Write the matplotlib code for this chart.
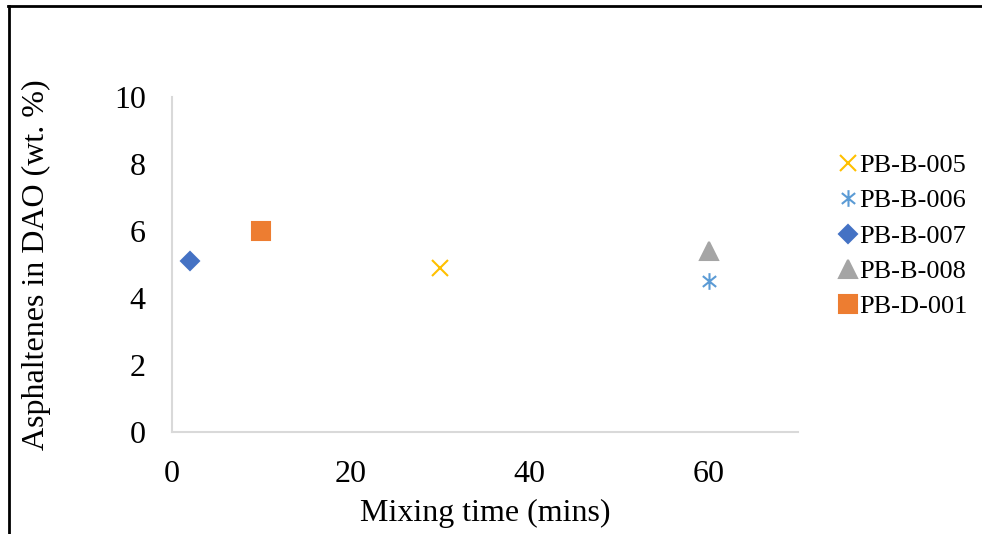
import matplotlib
matplotlib.use("Agg")
import matplotlib.pyplot as plt
from matplotlib.lines import Line2D
from matplotlib.path import Path

plt.rcParams['font.family'] = ['Liberation Serif', 'DejaVu Serif']

# data
series = ['PB-B-005', 'PB-B-006', 'PB-B-007', 'PB-B-008', 'PB-D-001']
mix_time = [30, 60, 2, 60, 10]
asphaltenes = [4.9, 4.5, 5.1, 5.4, 6.0]

# Excel-like star marker: vertical bar plus an X
star = Path([(0, -1), (0, 1), (-0.8, -0.65), (0.8, 0.65), (-0.8, 0.65), (0.8, -0.65)],
            [Path.MOVETO, Path.LINETO, Path.MOVETO, Path.LINETO, Path.MOVETO, Path.LINETO])

colors = ['#FFC000', '#5B9BD5', '#4472C4', '#A5A5A5', '#ED7D31']
markers = ['x', star, 'D', '^', 's']
msizes = [12, 12, 9.5, 13, 13]

fig = plt.figure(figsize=(9.82, 5.34), dpi=100)
ax = fig.add_axes([0.1752, 0.191, 0.6374, 0.6274])

for k in range(len(series)):
    ax.plot(mix_time[k], asphaltenes[k], linestyle='none', marker=markers[k],
            markersize=msizes[k], color=colors[k], markeredgewidth=1.5,
            label=series[k])

ax.set_xlim(0, 70)
ax.set_ylim(0, 10)
ax.set_xticks([0, 20, 40, 60])
ax.set_yticks([0, 2, 4, 6, 8, 10])
ax.tick_params(length=0, labelsize=23)
ax.tick_params(axis='x', pad=20)
ax.tick_params(axis='y', pad=19)
for s in ['top', 'right']:
    ax.spines[s].set_visible(False)
for s in ['left', 'bottom']:
    ax.spines[s].set_color('#D9D9D9')
    ax.spines[s].set_linewidth(1.5)

ax.set_xlabel('Mixing time (mins)', fontsize=23)
ax.set_ylabel('Asphaltenes in DAO (wt. %)', fontsize=23)
ax.xaxis.set_label_coords(0.5, -0.200)
ax.yaxis.set_label_coords(-0.194, 0.5)

ax.legend(loc='center left', bbox_to_anchor=(1.05, 0.585), frameon=False,
          fontsize=19, handlelength=0.6, handletextpad=0.15,
          labelspacing=0.45, borderaxespad=0)

# outer frame (top and left edges only)
fig.add_artist(Line2D([0.008, 1.0], [0.989, 0.989], color='black', lw=2,
                      transform=fig.transFigure))
fig.add_artist(Line2D([0.009, 0.009], [0.0, 0.989], color='black', lw=2,
                      transform=fig.transFigure))

fig.savefig('out.png', dpi=100)
